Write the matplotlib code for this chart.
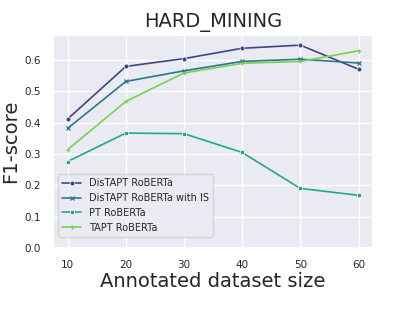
import matplotlib
matplotlib.use("Agg")
import matplotlib.pyplot as plt
import seaborn as sns

sizes = [10, 20, 30, 40, 50, 60]
distapt = [0.412, 0.580, 0.605, 0.638, 0.648, 0.571]
distapt_is = [0.382, 0.532, 0.566, 0.596, 0.603, 0.591]
pt = [0.276, 0.367, 0.365, 0.305, 0.190, 0.168]
tapt = [0.314, 0.468, 0.559, 0.590, 0.596, 0.630]

labels = ["DisTAPT RoBERTa", "DisTAPT RoBERTa with IS", "PT RoBERTa", "TAPT RoBERTa"]
markers = ["o", "x", "s", "+"]

sns.set_theme(style="darkgrid")
colors = sns.color_palette("viridis", 4)

fig = plt.figure(figsize=(4.15, 3.11), dpi=100)
ax = fig.add_axes([0.128, 0.203, 0.771, 0.684])

for vals, lab, m, c in zip([distapt, distapt_is, pt, tapt], labels, markers, colors):
    ax.plot(sizes, vals, color=c, marker=m, markersize=3.5, linewidth=1.2,
            markeredgecolor="white" if m in ("o", "s") else c,
            markeredgewidth=0.5 if m in ("o", "s") else 0.9, label=lab)

ax.set_xlim(7.5, 62.5)
ax.set_ylim(0, 0.68)
ax.set_xticks(sizes)
ax.set_yticks([0.0, 0.1, 0.2, 0.3, 0.4, 0.5, 0.6])
ax.tick_params(labelsize=7.5, pad=3)
ax.set_title("HARD_MINING", fontsize=14)
ax.set_xlabel("Annotated dataset size", fontsize=14, labelpad=1)
ax.set_ylabel("F1-score", fontsize=14, labelpad=3)
ax.legend(fontsize=7, loc="lower left", bbox_to_anchor=(0.0, 0.03))

fig.savefig("out.png", dpi=100)
